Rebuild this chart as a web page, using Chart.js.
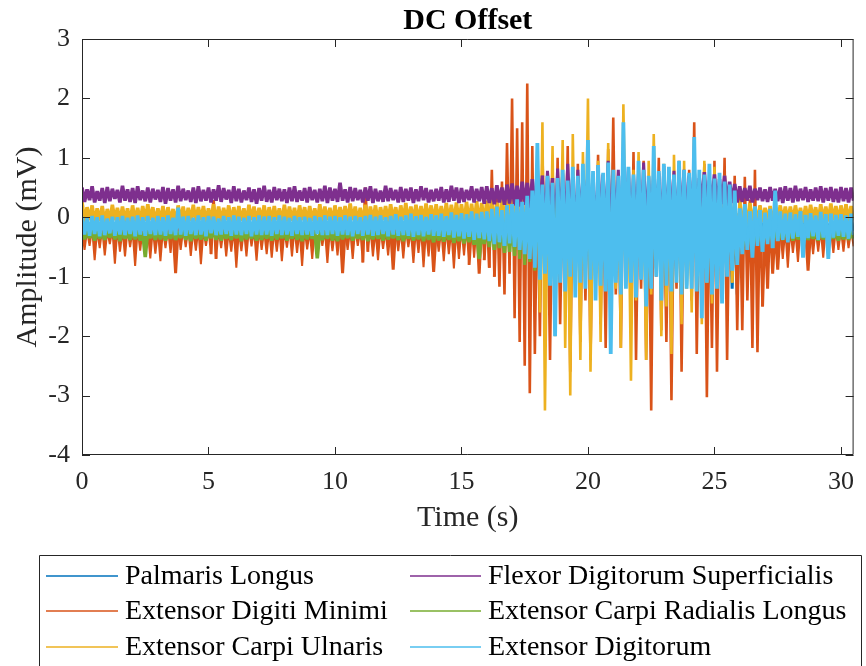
<!DOCTYPE html>
<html>
<head>
<meta charset="utf-8">
<title>DC Offset</title>
<script src="https://cdn.jsdelivr.net/npm/chart.js"></script>
<style>
  html, body { margin: 0; padding: 0; background: #fff; }
  canvas { display: block; }
</style>
</head>
<body>
<canvas id="emg" width="866" height="666"></canvas>
<script>
// EMG channels, one sample every 0.1 s (mV), one row per second
const SAMPLE_STEP = 0.1;

const seriesNames = [
  'Palmaris Longus',
  'Extensor Digiti Minimi',
  'Extensor Carpi Ulnaris',
  'Flexor Digitorum Superficialis',
  'Extensor Carpi Radialis Longus',
  'Extensor Digitorum'
];
const seriesColors = ['#0072BD', '#D95319', '#EDB120', '#7E2F8E', '#77AC30', '#4DBEEE'];
// DC offset of each channel (mV)
const dcOffsets = [-0.15, -0.30, 0.07, 0.37, -0.30, -0.15];

const xTicks = [0, 5, 10, 15, 20, 25, 30];
const yTicks = [-4, -3, -2, -1, 0, 1, 2, 3];

const palmarisLongus = [
  -0.06,-0.23,-0.08,-0.21,-0.05,-0.25,-0.07,-0.22,-0.09,-0.24,
  -0.06,-0.21,-0.08,-0.26,-0.05,-0.23,-0.07,-0.22,-0.05,-0.24,
  -0.08,-0.21,-0.06,-0.25,-0.09,-0.23,-0.07,-0.22,-0.05,-0.24,
  -0.08,-0.21,-0.06,-0.25,-0.08,-0.22,-0.07,-0.24,-0.05,-0.21,
  -0.07,-0.23,-0.09,-0.22,-0.06,-0.24,-0.08,-0.26,-0.05,-0.22,
  -0.07,-0.23,-0.06,-0.21,-0.08,-0.24,-0.06,-0.22,-0.05,-0.25,
  -0.09,-0.21,-0.07,-0.23,-0.08,-0.24,-0.06,-0.22,-0.05,-0.25,
  -0.07,-0.23,-0.09,-0.21,-0.06,-0.24,-0.08,-0.22,-0.05,-0.25,
  -0.07,-0.23,-0.09,-0.21,-0.06,-0.24,-0.05,-0.22,-0.08,-0.25,
  -0.07,-0.21,-0.06,-0.23,-0.09,-0.24,-0.05,-0.22,-0.08,-0.26,
  -0.07,-0.23,-0.06,-0.24,-0.04,-0.26,-0.07,-0.25,-0.03,-0.28,
  -0.06,-0.22,-0.08,-0.24,-0.05,-0.23,-0.07,-0.21,-0.06,-0.25,
  -0.08,-0.22,-0.05,-0.24,-0.07,-0.23,-0.09,-0.21,-0.06,-0.24,
  -0.05,-0.23,-0.08,-0.25,-0.06,-0.22,-0.07,-0.24,-0.05,-0.26,
  -0.06,-0.24,-0.04,-0.26,-0.07,-0.25,-0.03,-0.28,-0.05,-0.27,
  -0.02,-0.30,-0.04,-0.29,0.00,-0.32,0.02,-0.31,0.01,-0.33,
  0.05,-0.35,0.02,-0.38,0.08,-0.40,0.04,-0.45,0.10,-0.48,
  0.06,-0.52,0.15,-0.55,0.20,-0.60,0.28,-0.66,0.35,-0.72,
  0.45,-0.85,0.35,-0.75,0.50,-0.90,0.40,-0.80,0.55,-0.95,
  0.38,-0.85,0.48,-0.78,0.60,-0.92,0.52,-0.88,0.40,-0.80,
  0.58,-0.95,0.45,-0.82,0.62,-0.90,0.42,-0.86,0.55,-0.79,
  0.48,-0.94,0.50,-0.85,0.60,-0.92,0.44,-0.80,0.56,-0.88,
  0.40,-0.95,0.58,-0.83,0.47,-0.90,0.52,-0.86,0.48,-0.90,
  0.55,-0.95,0.42,-1.05,0.50,-0.88,0.38,-0.92,0.45,-1.15,
  0.35,-1.00,0.48,-0.90,0.42,-0.95,0.50,-1.05,0.38,-0.90,
  0.40,-0.95,0.35,-1.05,0.30,-0.90,0.25,-1.20,0.20,-1.30,
  0.05,-0.40,0.00,-0.35,0.02,-0.32,-0.03,-0.30,-0.04,-0.28,
  -0.05,-0.26,-0.06,-0.25,-0.05,-0.24,-0.07,-0.22,-0.06,-0.24,
  -0.08,-0.21,-0.05,-0.23,-0.07,-0.25,-0.06,-0.22,-0.08,-0.24,
  -0.05,-0.23,-0.06,-0.22,-0.08,-0.24,-0.07,-0.21,-0.05,-0.25,
  -0.06,-0.22,-0.08,-0.24,-0.07,-0.23
];

const extensorDigitiMinimi = [
  -0.20,-0.55,-0.22,-0.48,-0.18,-0.72,-0.21,-0.52,-0.19,-0.64,
  -0.23,-0.45,-0.20,-0.78,-0.18,-0.58,-0.21,-0.66,-0.19,-0.50,
  -0.22,-0.82,-0.20,-0.56,-0.18,-0.47,-0.21,-0.69,-0.19,-0.61,
  -0.22,-0.74,-0.20,-0.52,-0.18,-0.60,-0.21,-0.94,-0.19,-0.55,
  -0.20,-0.50,-0.18,-0.65,-0.21,-0.56,-0.19,-0.79,-0.22,-0.48,
  -0.20,-0.62,0.29,-0.70,-0.21,-0.52,-0.19,-0.66,-0.22,-0.58,
  -0.19,-0.85,-0.22,-0.57,-0.20,-0.66,-0.18,-0.49,-0.21,-0.73,
  -0.19,-0.55,-0.22,-0.62,-0.20,-0.68,-0.21,-0.58,-0.19,-0.74,
  -0.22,-0.51,-0.20,-0.66,-0.18,-0.60,-0.21,-0.82,-0.19,-0.54,
  -0.22,-0.70,-0.20,-0.62,-0.18,-0.48,-0.21,-0.77,-0.19,-0.57,
  -0.21,-0.64,-0.19,-0.94,-0.22,-0.55,-0.20,-0.70,-0.18,-0.48,
  -0.21,-0.76,0.50,-0.58,-0.18,-0.66,-0.21,-0.72,-0.19,-0.53,
  -0.22,-0.64,-0.20,-0.88,-0.18,-0.57,-0.21,-0.69,-0.19,-0.50,
  -0.22,-0.77,-0.20,-0.60,-0.18,-0.84,-0.21,-0.66,-0.19,-0.92,
  -0.22,-0.58,-0.20,-0.74,-0.18,-0.62,-0.21,-0.86,-0.19,-0.70,
  -0.18,-0.64,-0.15,-0.80,-0.12,-0.68,-0.10,-0.95,-0.08,-0.72,
  0.20,-0.85,0.80,-1.00,0.45,-1.17,0.60,-1.30,1.25,-0.95,
  2.00,-1.70,1.50,-2.10,1.60,-2.50,2.25,-2.96,1.20,-2.30,
  0.55,-2.00,1.10,-0.90,0.40,-2.40,0.85,-1.30,1.00,-1.80,
  0.45,-1.10,1.20,-2.60,0.60,-0.85,0.90,-2.10,0.40,-1.40,
  0.75,-2.40,0.35,-1.00,1.05,-1.80,0.50,-2.20,1.15,-0.95,
  1.68,-1.30,0.45,-2.20,0.80,-0.90,0.40,-1.80,1.10,-2.40,
  0.50,-1.20,0.95,-2.40,0.40,-3.25,0.85,-1.00,1.00,-1.90,
  0.35,-2.10,0.80,-3.08,0.45,-1.20,0.95,-2.60,0.55,-1.00,
  0.80,-1.40,1.60,-2.30,0.50,-1.00,0.90,-3.03,0.45,-2.20,
  0.95,-2.60,0.40,-1.20,1.00,-2.40,0.55,-1.00,0.70,-1.90,
  0.45,-1.90,0.68,-1.40,0.30,-2.20,0.80,-2.27,0.20,-1.50,
  -0.05,-1.20,0.10,-0.95,-0.15,-0.88,-0.18,-0.70,-0.20,-0.85,
  -0.19,-0.60,-0.22,-0.75,-0.18,-0.55,-0.20,-0.90,-0.21,-0.62,
  -0.19,-0.58,-0.20,-0.68,-0.18,-0.52,-0.21,-0.60,-0.19,-0.55,
  -0.20,-0.58,-0.18,-0.52,-0.21,-0.49
];

const extensorCarpiUlnaris = [
  0.26,-0.08,0.17,-0.05,0.20,-0.10,0.15,-0.06,0.19,-0.09,
  0.14,-0.07,0.21,-0.05,0.16,-0.08,0.18,-0.06,0.15,-0.09,
  0.20,-0.07,0.16,-0.08,0.19,-0.06,0.22,-0.05,0.17,-0.09,
  0.15,-0.06,0.19,-0.08,0.17,-0.07,0.14,-0.09,0.20,-0.05,
  0.18,-0.08,0.16,-0.06,0.21,-0.07,0.17,-0.05,0.19,-0.08,
  0.15,-0.06,0.22,-0.09,0.18,-0.07,0.16,-0.05,0.20,-0.08,
  0.17,-0.07,0.19,-0.06,0.15,-0.08,0.21,-0.05,0.18,-0.09,
  0.16,-0.06,0.20,-0.08,0.17,-0.07,0.19,-0.05,0.15,-0.08,
  0.21,-0.07,0.18,-0.06,0.16,-0.09,0.20,-0.05,0.17,-0.08,
  0.19,-0.06,0.15,-0.08,0.22,-0.07,0.18,-0.05,0.16,-0.09,
  0.20,-0.07,0.17,-0.06,0.19,-0.08,0.23,-0.05,0.18,-0.07,
  0.16,-0.08,0.21,-0.06,0.18,-0.07,0.20,-0.09,0.17,-0.05,
  0.19,-0.07,0.22,-0.06,0.17,-0.08,0.20,-0.05,0.24,-0.09,
  0.18,-0.06,0.21,-0.08,0.19,-0.07,0.23,-0.06,0.20,-0.08,
  0.22,-0.07,0.19,-0.09,0.24,-0.08,0.21,-0.10,0.25,-0.09,
  0.22,-0.11,0.26,-0.10,0.23,-0.13,0.27,-0.12,0.24,-0.14,
  0.28,-0.15,0.32,-0.20,0.25,-0.18,0.35,-0.22,0.30,-0.16,
  0.38,-0.25,0.33,-0.30,0.45,-0.35,0.40,-0.50,0.60,-0.70,
  0.95,-1.60,1.60,-3.25,0.55,-1.10,1.20,-2.00,0.45,-0.90,
  1.30,-2.20,0.60,-3.00,1.40,-1.20,0.50,-2.40,1.10,-0.80,
  2.00,-2.60,0.40,-1.30,0.95,-2.10,0.55,-1.00,1.25,-1.80,
  0.50,-1.20,0.70,-2.20,1.90,-0.90,0.45,-2.75,0.80,-1.40,
  1.10,-1.00,0.40,-2.40,0.95,-1.30,1.40,-0.85,0.50,-2.00,
  0.90,-1.50,0.45,-2.30,1.05,-0.95,0.55,-1.80,0.95,-1.20,
  0.40,-1.60,1.00,-0.90,0.55,-1.80,0.95,-1.10,0.45,-1.45,
  0.85,-1.00,0.50,-1.35,0.70,-0.80,0.45,-1.10,0.35,-0.60,
  0.28,-0.25,0.22,-0.18,0.24,-0.12,0.18,-0.10,0.20,-0.08,
  0.16,-0.07,0.19,-0.09,0.17,-0.06,0.20,-0.08,0.18,-0.07,
  0.18,-0.08,0.20,-0.06,0.16,-0.09,0.19,-0.07,0.21,-0.05,
  0.17,-0.08,0.22,-0.06,0.18,-0.07,0.23,-0.05,0.19,-0.08,
  0.20,-0.06,0.22,-0.07,0.19,-0.05
];

const flexorDigitorumSup = [
  0.50,0.26,0.47,0.29,0.52,0.25,0.44,0.28,0.49,0.24,
  0.51,0.27,0.48,0.31,0.46,0.25,0.53,0.28,0.47,0.26,
  0.49,0.24,0.52,0.29,0.45,0.27,0.50,0.25,0.48,0.30,
  0.46,0.26,0.51,0.23,0.49,0.28,0.47,0.25,0.53,0.27,
  0.48,0.29,0.45,0.26,0.50,0.24,0.52,0.27,0.46,0.28,
  0.50,0.25,0.47,0.28,0.54,0.26,0.49,0.30,0.46,0.24,
  0.52,0.27,0.48,0.25,0.45,0.29,0.50,0.26,0.47,0.23,
  0.49,0.28,0.53,0.26,0.46,0.25,0.51,0.29,0.48,0.27,
  0.47,0.24,0.50,0.27,0.52,0.26,0.45,0.28,0.49,0.25,
  0.51,0.29,0.46,0.25,0.48,0.27,0.53,0.24,0.50,0.28,
  0.48,0.26,0.58,0.28,0.47,0.25,0.51,0.27,0.49,0.29,
  0.46,0.25,0.50,0.28,0.52,0.24,0.48,0.27,0.45,0.26,
  0.53,0.27,0.49,0.29,0.46,0.25,0.51,0.26,0.48,0.28,
  0.50,0.24,0.47,0.27,0.52,0.29,0.49,0.25,0.46,0.27,
  0.48,0.28,0.51,0.25,0.47,0.26,0.53,0.28,0.50,0.24,
  0.49,0.26,0.46,0.29,0.52,0.25,0.48,0.27,0.51,0.23,
  0.52,0.24,0.49,0.22,0.54,0.25,0.50,0.21,0.55,0.23,
  0.57,0.20,0.53,0.18,0.60,0.21,0.58,0.16,0.64,0.14,
  0.86,0.05,0.70,-0.12,0.78,0.10,0.66,-0.20,0.82,0.00,
  0.74,-0.15,0.90,0.05,0.68,-0.25,0.80,-0.05,0.72,0.08,
  0.78,-0.10,0.65,-0.30,0.88,0.05,0.72,-0.15,0.95,-0.20,
  0.70,0.00,0.80,-0.25,0.66,-0.05,0.84,-0.15,0.70,0.02,
  0.76,-0.20,0.92,-0.05,0.68,-0.10,0.80,0.05,0.74,-0.18,
  0.86,-0.02,0.70,0.10,0.78,-0.08,0.72,0.12,0.80,0.05,
  0.70,0.15,0.84,0.08,0.66,0.18,0.76,0.10,0.62,0.20,
  0.72,0.12,0.64,0.22,0.70,0.18,0.60,0.24,0.56,0.25,
  0.52,0.26,0.49,0.28,0.53,0.25,0.48,0.29,0.50,0.27,
  0.47,0.26,0.51,0.28,0.48,0.27,0.50,0.24,0.52,0.28,
  0.49,0.25,0.53,0.27,0.48,0.29,0.51,0.26,0.47,0.28,
  0.50,0.27,0.52,0.25,0.49,0.28,0.51,0.26,0.48,0.25,
  0.51,0.27,0.49,0.25,0.50,0.28
];

const extensorCarpiRadialis = [
  -0.22,-0.37,-0.24,-0.35,-0.21,-0.39,-0.23,-0.36,-0.25,-0.38,
  -0.22,-0.34,-0.24,-0.37,-0.21,-0.40,-0.23,-0.36,-0.25,-0.38,
  -0.22,-0.37,-0.24,-0.39,-0.25,-0.67,-0.22,-0.35,-0.24,-0.38,
  -0.21,-0.37,-0.23,-0.39,-0.25,-0.36,-0.22,-0.38,-0.24,-0.35,
  -0.21,-0.38,-0.23,-0.40,-0.22,-0.36,-0.25,-0.37,-0.21,-0.39,
  -0.24,-0.35,-0.22,-0.38,-0.21,-0.39,-0.23,-0.36,-0.25,-0.38,
  -0.22,-0.35,-0.24,-0.40,-0.23,-0.37,-0.21,-0.36,-0.24,-0.39,
  -0.22,-0.38,-0.24,-0.36,-0.21,-0.39,-0.23,-0.37,-0.25,-0.35,
  -0.22,-0.39,-0.24,-0.36,-0.21,-0.38,-0.23,-0.40,-0.24,-0.37,
  -0.21,-0.36,-0.23,-0.69,-0.22,-0.38,-0.25,-0.36,-0.21,-0.39,
  -0.23,-0.40,-0.22,-0.37,-0.24,-0.35,-0.21,-0.39,-0.23,-0.36,
  -0.25,-0.38,-0.22,-0.40,-0.24,-0.37,-0.21,-0.36,-0.23,-0.39,
  -0.22,-0.37,-0.25,-0.35,-0.24,-0.38,-0.21,-0.40,-0.23,-0.36,
  -0.22,-0.39,-0.24,-0.37,-0.22,-0.40,-0.21,-0.38,-0.23,-0.42,
  -0.20,-0.39,-0.22,-0.41,-0.21,-0.38,-0.23,-0.43,-0.20,-0.40,
  -0.22,-0.44,-0.19,-0.42,-0.21,-0.46,-0.18,-0.70,-0.17,-0.45,
  -0.10,-0.50,-0.05,-0.55,0.00,-0.52,-0.08,-0.60,0.05,-0.58,
  0.00,-0.65,0.10,-0.70,0.05,-0.80,0.15,-0.75,0.20,-0.90,
  0.30,-0.75,0.20,-0.65,0.40,-0.85,0.25,-0.70,0.45,-0.80,
  0.25,-0.90,0.35,-0.65,0.45,-0.75,0.40,-0.85,0.30,-0.70,
  0.45,-0.85,0.30,-0.75,0.40,-0.90,0.25,-0.65,0.40,-0.80,
  0.35,-0.85,0.30,-0.75,0.45,-0.90,0.25,-0.70,0.40,-0.85,
  0.35,-0.80,0.45,-0.65,0.30,-0.90,0.40,-0.75,0.35,-0.80,
  0.25,-0.70,0.40,-0.85,0.20,-0.65,0.30,-0.75,0.35,-0.80,
  0.30,-0.75,0.25,-0.70,0.40,-0.85,0.20,-0.65,0.35,-0.75,
  0.20,-0.70,0.25,-0.75,0.15,-0.65,0.10,-0.60,0.05,-0.55,
  -0.10,-0.55,-0.15,-0.45,-0.18,-0.50,-0.20,-0.42,-0.22,-0.40,
  -0.21,-0.38,-0.23,-0.39,-0.22,-0.37,-0.24,-0.38,-0.21,-0.36,
  -0.23,-0.39,-0.22,-0.37,-0.25,-0.35,-0.21,-0.38,-0.24,-0.36,
  -0.22,-0.39,-0.23,-0.37,-0.21,-0.38,-0.24,-0.36,-0.22,-0.39,
  -0.23,-0.37,-0.21,-0.38,-0.24,-0.36
];

const extensorDigitorum = [
  0.01,-0.29,-0.01,-0.31,0.02,-0.28,0.00,-0.32,0.03,-0.30,
  -0.02,-0.27,0.01,-0.31,0.00,-0.29,0.02,-0.30,-0.01,-0.28,
  0.01,-0.32,0.03,-0.29,0.00,-0.31,0.02,-0.28,-0.01,-0.30,
  0.02,-0.29,0.00,-0.31,0.03,-0.28,-0.01,-0.30,0.16,-0.29,
  0.01,-0.31,0.02,-0.28,-0.01,-0.30,0.03,-0.29,0.00,-0.32,
  0.02,-0.27,0.01,-0.30,-0.02,-0.29,0.02,-0.28,0.00,-0.31,
  0.03,-0.29,0.01,-0.30,-0.01,-0.28,0.02,-0.32,0.00,-0.29,
  0.03,-0.30,0.01,-0.29,0.02,-0.31,0.00,-0.28,0.03,-0.30,
  0.01,-0.29,-0.01,-0.31,0.02,-0.28,0.00,-0.30,0.01,-0.29,
  -0.01,-0.31,0.02,-0.28,0.00,-0.30,0.03,-0.30,0.01,-0.28,
  0.02,-0.31,0.00,-0.29,0.03,-0.30,0.01,-0.32,0.02,-0.28,
  0.00,-0.31,0.02,-0.29,0.04,-0.31,0.01,-0.30,0.03,-0.28,
  0.00,-0.32,0.02,-0.29,0.05,-0.31,0.01,-0.30,0.03,-0.31,
  0.06,-0.33,0.02,-0.30,0.04,-0.32,0.01,-0.29,0.05,-0.31,
  0.03,-0.31,0.06,-0.33,0.02,-0.30,0.08,-0.34,0.04,-0.32,
  0.07,-0.36,0.05,-0.33,0.10,-0.38,0.06,-0.35,0.09,-0.37,
  0.10,-0.40,0.14,-0.45,0.18,-0.42,0.12,-0.48,0.20,-0.44,
  0.22,-0.50,0.30,-0.55,0.26,-0.62,0.36,-0.70,0.45,-0.85,
  1.25,-1.05,0.55,-0.95,0.70,-1.15,0.58,-2.00,0.66,-1.10,
  0.80,-1.25,0.62,-1.00,0.85,-1.35,0.70,-1.10,0.90,-1.20,
  1.30,-1.05,0.78,-1.40,0.88,-1.15,0.75,-1.25,0.92,-2.30,
  0.80,-1.10,0.70,-1.30,1.60,-1.20,0.85,-1.10,0.72,-1.35,
  0.95,-1.05,0.80,-1.50,0.70,-1.20,1.20,-1.00,0.78,-1.40,
  0.90,-1.15,0.85,-1.25,0.72,-1.10,0.95,-1.30,0.80,-1.20,
  0.75,-1.20,1.35,-1.25,0.80,-1.70,0.72,-1.10,0.90,-1.30,
  0.65,-1.20,0.75,-1.45,0.60,-1.00,0.55,-0.90,0.45,-0.80,
  0.15,-0.62,0.22,-0.55,0.10,-0.68,0.18,-0.48,0.12,-0.58,
  0.08,-0.45,0.14,-0.52,0.45,-0.40,0.10,-0.38,0.06,-0.42,
  0.08,-0.36,0.05,-0.33,0.10,-0.68,0.04,-0.35,0.07,-0.32,
  0.03,-0.38,0.09,-0.34,0.05,-0.70,0.06,-0.34,0.04,-0.31,
  0.05,-0.33,0.03,-0.36,0.06,-0.30
];

const seriesValues = [
  palmarisLongus, extensorDigitiMinimi, extensorCarpiUlnaris,
  flexorDigitorumSup, extensorCarpiRadialis, extensorDigitorum
];

const FONT = "'Liberation Serif', 'Times New Roman', serif";
const AXIS_COLOR = '#262626';

// stroke widths per channel: [noise floor, tall segments].
// Extensor Digitorum (drawn on top) gets a heavy stroke so its burst reads
// as the solid core it is in the figure; Extensor Digiti Minimi's floor is
// a row of thin spikes, so it stays light.
const strokeWidths = [
  [3.6, 2.6], [2.0, 2.6], [3.6, 2.6], [3.6, 2.6], [3.6, 2.6], [3.6, 3.8]
];

function segmentWidth([floor, burst]) {
  return ctx => {
    const dy = Math.abs(ctx.p0.y - ctx.p1.y);
    if (dy < 40) return floor;
    return dy < 90 && burst < 3 ? burst + 0.4 : burst;
  };
}

// MATLAB-like box, inward ticks, title and two-column legend
const matlabDecor = {
  id: 'matlabDecor',
  afterDatasetsDraw(chart) {
    const { ctx, chartArea: a, scales } = chart;
    ctx.save();
    ctx.strokeStyle = AXIS_COLOR;
    ctx.lineWidth = 1;
    ctx.beginPath();
    ctx.rect(a.left + 0.5, a.top + 0.5, a.right - a.left - 1, a.bottom - a.top - 1);
    xTicks.forEach(v => {
      const px = Math.round(scales.x.getPixelForValue(v)) + 0.5;
      ctx.moveTo(px, a.bottom); ctx.lineTo(px, a.bottom - 8);
      ctx.moveTo(px, a.top); ctx.lineTo(px, a.top + 8);
    });
    yTicks.forEach(v => {
      const py = Math.round(scales.y.getPixelForValue(v)) + 0.5;
      ctx.moveTo(a.left, py); ctx.lineTo(a.left + 8, py);
      ctx.moveTo(a.right, py); ctx.lineTo(a.right - 8, py);
    });
    ctx.stroke();
    ctx.restore();
  },
  afterDraw(chart) {
    const { ctx, chartArea: a } = chart;
    ctx.save();
    ctx.fillStyle = '#000';
    ctx.font = `bold 30px ${FONT}`;
    ctx.textAlign = 'center';
    ctx.textBaseline = 'middle';
    ctx.fillText('DC Offset', (a.left + a.right) / 2, 21);

    // legend box
    ctx.strokeStyle = AXIS_COLOR;
    ctx.lineWidth = 1;
    ctx.fillStyle = '#fff';
    ctx.beginPath();
    ctx.rect(39.5, 555.5, 822, 120);
    ctx.fill();
    ctx.stroke();

    const rows = [576, 611, 647];
    const cols = [{ x0: 46, x1: 118, tx: 125 }, { x0: 410, x1: 481, tx: 488 }];
    ctx.font = `28px ${FONT}`;
    ctx.textAlign = 'left';
    chart.data.datasets.forEach((ds, i) => {
      const col = cols[Math.floor(i / 3)];
      const y = rows[i % 3];
      ctx.strokeStyle = ds.borderColor;
      ctx.lineWidth = 1.5;
      ctx.beginPath();
      ctx.moveTo(col.x0, y); ctx.lineTo(col.x1, y);
      ctx.stroke();
      ctx.fillStyle = '#000';
      ctx.fillText(ds.label, col.tx, y + 1);
    });
    ctx.restore();
  }
};

new Chart(document.getElementById('emg'), {
  type: 'line',
  data: {
    datasets: seriesValues.map((vals, i) => ({
      label: seriesNames[i],
      data: vals.map((v, k) => ({ x: k * SAMPLE_STEP, y: v })),
      borderColor: seriesColors[i],
      backgroundColor: seriesColors[i],
      borderWidth: 2.6,
      borderJoinStyle: 'bevel',
      segment: { borderWidth: segmentWidth(strokeWidths[i]) },
      pointRadius: 0,
      tension: 0,
      fill: { value: dcOffsets[i] },
      order: seriesValues.length - 1 - i
    }))
  },
  options: {
    responsive: false,
    animation: false,
    devicePixelRatio: 1,
    parsing: false,
    layout: { padding: { left: 0, top: 39, right: 3, bottom: 111 } },
    plugins: {
      legend: { display: false },
      title: { display: false },
      tooltip: { enabled: false }
    },
    scales: {
      x: {
        type: 'linear',
        min: 0,
        max: 30.5,
        afterBuildTicks: s => { s.ticks = xTicks.map(v => ({ value: v })); },
        afterFit: s => { s.height = 100; },
        grid: { display: false, drawTicks: false },
        border: { display: false },
        ticks: { color: AXIS_COLOR, font: { family: FONT, size: 26 }, padding: 12, maxRotation: 0 },
        title: { display: true, text: 'Time (s)', color: AXIS_COLOR, font: { family: FONT, size: 30 }, padding: { top: 0, bottom: 19 } }
      },
      y: {
        min: -4,
        max: 3,
        afterBuildTicks: s => { s.ticks = yTicks.map(v => ({ value: v })); },
        afterFit: s => { s.width = 82; },
        grid: { display: false, drawTicks: false },
        border: { display: false },
        ticks: { color: AXIS_COLOR, font: { family: FONT, size: 26 }, padding: 12 },
        title: { display: true, text: 'Amplitude (mV)', color: AXIS_COLOR, font: { family: FONT, size: 30 }, padding: { top: 10, bottom: 0 } }
      }
    }
  },
  plugins: [matlabDecor]
});
</script>
</body>
</html>
